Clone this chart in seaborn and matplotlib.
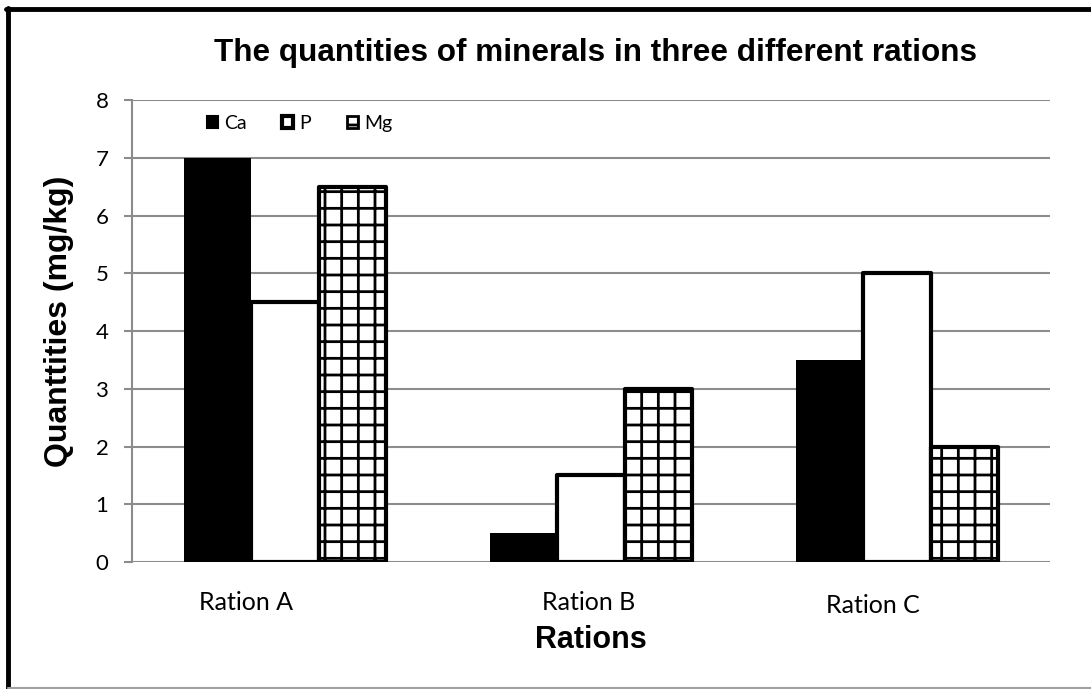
import matplotlib
matplotlib.use("Agg")
import matplotlib.pyplot as plt
import matplotlib.transforms as mtransforms
from matplotlib.patches import Patch
from matplotlib.lines import Line2D
import seaborn as sns
import pandas as pd

rations = ["Ration A", "Ration B", "Ration C"]
minerals = ["Ca", "P", "Mg"]
ca_values = [7.0, 0.5, 3.5]
p_values = [4.5, 1.5, 5.0]
mg_values = [6.5, 3.0, 2.0]
y_ticks = [0, 1, 2, 3, 4, 5, 6, 7, 8]

rows = []
for name, vals in zip(minerals, [ca_values, p_values, mg_values]):
    for r, v in zip(rations, vals):
        rows.append({"Ration": r, "Mineral": name, "Value": v})
df = pd.DataFrame(rows)

sns.set_theme(style="white")
plt.rcParams["font.family"] = ["Lato", "DejaVu Sans"]
plt.rcParams["hatch.linewidth"] = 2.0
for k in ["text.color", "axes.labelcolor", "xtick.labelcolor", "ytick.labelcolor"]:
    plt.rcParams[k] = "black"

fig = plt.figure(figsize=(10.91, 6.89), dpi=100)
ax = fig.add_axes([132 / 1091, 1 - 562 / 689, (1050 - 132) / 1091, (562 - 100) / 689])

sns.barplot(data=df, x="Ration", y="Value", hue="Mineral", order=rations,
            hue_order=minerals, width=0.66, ax=ax, legend=False,
            palette=["black", "white", "white"], saturation=1)

styles = {
    "Ca": dict(facecolor="black", edgecolor="black", lw=0, hatch=None),
    "P": dict(facecolor="white", edgecolor="black", lw=3.0, hatch=None),
    "Mg": dict(facecolor="white", edgecolor="black", lw=3.0, hatch="+"),
}
for cont, name in zip(ax.containers, minerals):
    st = styles[name]
    for bar in cont:
        bar.set_facecolor(st["facecolor"])
        bar.set_edgecolor(st["edgecolor"])
        bar.set_linewidth(st["lw"])
        bar.set_joinstyle("round")
        if st["hatch"]:
            bar.set_hatch(st["hatch"])
        bar.set_zorder(3)

ax.set_ylim(0, 8)
ax.set_xlim(-0.5, 2.5)
ax.set_yticks(y_ticks)
ax.set_yticklabels([str(t) for t in y_ticks], fontsize=16)
ax.yaxis.grid(True, color="#8c8c8c", lw=1.5)
ax.set_axisbelow(True)
for s in ["top", "right", "bottom"]:
    ax.spines[s].set_visible(False)
ax.spines["left"].set_color("#8c8c8c")
ax.spines["left"].set_linewidth(1.5)
ax.tick_params(axis="y", length=6, width=1.5, color="#8c8c8c", pad=11, left=True)
ax.tick_params(axis="x", length=0, pad=21)

ax.set_xticks(range(len(rations)))
ax.set_xticklabels(rations, fontsize=18)
offsets = [(-39, 0), (-2, 0), (-24, -3)]
for lab, (dx, dy) in zip(ax.get_xticklabels(), offsets):
    lab.set_transform(lab.get_transform() +
                      mtransforms.ScaledTranslation(dx / 100, dy / 100, fig.dpi_scale_trans))

ax.set_xlabel("Rations", fontsize=22, fontweight="bold",
              family=["Liberation Sans", "DejaVu Sans"], labelpad=6)
ax.set_ylabel("Quanttities (mg/kg)", fontsize=23, fontweight="bold",
              family=["Liberation Sans", "DejaVu Sans"])
ax.yaxis.set_label_coords(-58 / 918, (562 - 321) / 462)

fig.text(596 / 1091, 1 - 53 / 689, "The quantities of minerals in three different rations",
         ha="center", va="center", fontsize=22.7, fontweight="bold",
         family=["Liberation Sans", "DejaVu Sans"])

handles = [Patch(facecolor="black", edgecolor="black", lw=1.5),
           Patch(facecolor="white", edgecolor="black", lw=3.0),
           Patch(facecolor="white", edgecolor="black", lw=2.0, hatch="+")]
ax.legend(handles, minerals, loc="upper left", ncol=3, frameon=False,
          bbox_to_anchor=(199 / 1091, 1 - 107 / 689), bbox_transform=fig.transFigure,
          fontsize=14, handlelength=0.57, handleheight=0.57, handletextpad=0.3,
          columnspacing=1.85, borderaxespad=0)

# outer frame
fig.add_artist(Line2D([8 / 1091, 8 / 1091], [0, 1 - 8 / 689], transform=fig.transFigure,
                      color="black", lw=3.5))
fig.add_artist(Line2D([6 / 1091, 1], [1 - 9 / 689, 1 - 9 / 689], transform=fig.transFigure,
                      color="black", lw=3.5))
fig.add_artist(Line2D([8 / 1091, 1], [1.5 / 689, 1.5 / 689], transform=fig.transFigure,
                      color="#a0a0a0", lw=1.5))

fig.savefig("out.png", dpi=100)
